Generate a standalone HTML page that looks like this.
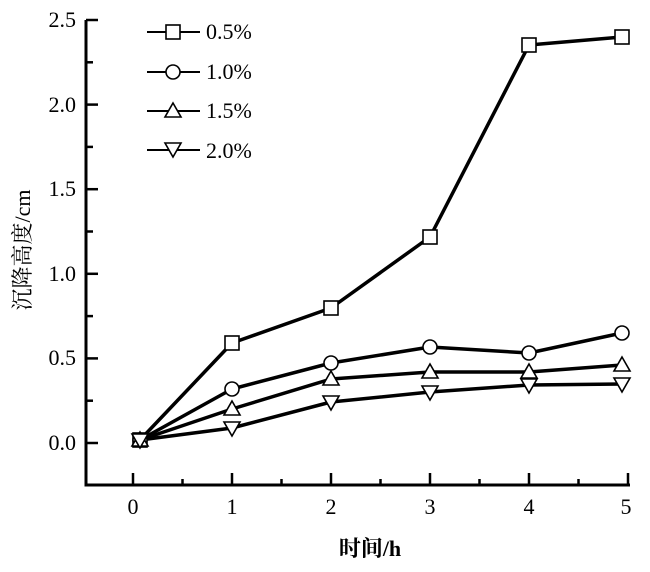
<!DOCTYPE html>
<html><head><meta charset="utf-8"><style>body{margin:0;background:#fff}</style></head><body>
<svg width="650" height="567" xmlns="http://www.w3.org/2000/svg" font-family="Liberation Serif, Noto Serif CJK SC, serif">
<rect width="650" height="567" fill="#fff"/>
<g stroke="#000" stroke-width="3" fill="none">
<path d="M86,20 V485 H630"/>
</g>
<g stroke="#000" stroke-width="2.5">
<line x1="86" y1="443" x2="98" y2="443"/><line x1="86" y1="400.7" x2="93" y2="400.7"/>
<line x1="86" y1="358.4" x2="98" y2="358.4"/><line x1="86" y1="316.1" x2="93" y2="316.1"/>
<line x1="86" y1="273.8" x2="98" y2="273.8"/><line x1="86" y1="231.5" x2="93" y2="231.5"/>
<line x1="86" y1="189.2" x2="98" y2="189.2"/><line x1="86" y1="146.9" x2="93" y2="146.9"/>
<line x1="86" y1="104.6" x2="98" y2="104.6"/><line x1="86" y1="62.3" x2="93" y2="62.3"/>
<line x1="86" y1="20" x2="98" y2="20"/>
<line x1="133" y1="485" x2="133" y2="473"/><line x1="182.5" y1="485" x2="182.5" y2="479"/>
<line x1="232" y1="485" x2="232" y2="473"/><line x1="281.5" y1="485" x2="281.5" y2="479"/>
<line x1="331" y1="485" x2="331" y2="473"/><line x1="380.5" y1="485" x2="380.5" y2="479"/>
<line x1="430" y1="485" x2="430" y2="473"/><line x1="479.5" y1="485" x2="479.5" y2="479"/>
<line x1="529" y1="485" x2="529" y2="473"/><line x1="578.5" y1="485" x2="578.5" y2="479"/>
<line x1="628" y1="485" x2="628" y2="473"/>
</g>
<g font-size="22" text-anchor="end">
<text x="76" y="450">0.0</text><text x="76" y="365">0.5</text><text x="76" y="281">1.0</text>
<text x="76" y="196">1.5</text><text x="76" y="112">2.0</text><text x="76" y="27">2.5</text>
</g>
<g font-size="22" text-anchor="middle">
<text x="133" y="514">0</text><text x="232" y="514">1</text><text x="331" y="514">2</text>
<text x="430" y="514">3</text><text x="529" y="514">4</text><text x="626" y="514">5</text>
</g>
<text x="370" y="556" font-size="22" font-weight="bold" text-anchor="middle">时间/h</text>
<text transform="translate(30,250) rotate(-90)" font-size="22" text-anchor="middle">沉降高度/cm</text>
<g stroke="#000" stroke-width="3.5" fill="none" stroke-linejoin="round">
<polyline points="140,440 232,343 331,308 430,237 529,45 622,37"/>
<polyline points="140,440 232,389 331,363 430,347 529,353 622,333"/>
<polyline points="140,440 232,409 331,379 430,372 529,372 622,365"/>
<polyline points="140,440 232,428 331,402 430,392 529,385 622,384"/>
</g>
<g stroke="#000" stroke-width="1.6" fill="#fff">
<rect x="133" y="433" width="14" height="14"/>
<rect x="225" y="336" width="14" height="14"/><rect x="324" y="301" width="14" height="14"/>
<rect x="423" y="230" width="14" height="14"/><rect x="522" y="38" width="14" height="14"/><rect x="615" y="30" width="14" height="14"/>
<circle cx="140" cy="440" r="7"/><circle cx="232" cy="389" r="7"/><circle cx="331" cy="363" r="7"/>
<circle cx="430" cy="347" r="7"/><circle cx="529" cy="353" r="7"/><circle cx="622" cy="333" r="7"/>
<path d="M232,401 l8,14 h-16z M331,371 l8,14 h-16z M430,364 l8,14 h-16z M529,364 l8,14 h-16z M622,357 l8,14 h-16z M140,432 l8,14 h-16z"/>
<path d="M232,436 l8,-14 h-16z M331,410 l8,-14 h-16z M430,400 l8,-14 h-16z M529,393 l8,-14 h-16z M622,392 l8,-14 h-16z M140,448 l8,-14 h-16z"/>
</g>
<g stroke="#000" stroke-width="2">
<line x1="147" y1="32" x2="200" y2="32"/><line x1="147" y1="72" x2="200" y2="72"/>
<line x1="147" y1="111" x2="200" y2="111"/><line x1="147" y1="150" x2="200" y2="150"/>
</g>
<g stroke="#000" stroke-width="1.6" fill="#fff">
<rect x="166" y="25" width="14" height="14"/>
<circle cx="173" cy="72" r="7"/>
<path d="M173,103 l8,14 h-16z"/>
<path d="M173,157 l8,-14 h-16z"/>
</g>
<g font-size="22">
<text x="206" y="39">0.5%</text><text x="206" y="79">1.0%</text>
<text x="206" y="118">1.5%</text><text x="206" y="158">2.0%</text>
</g>
</svg>
</body></html>
